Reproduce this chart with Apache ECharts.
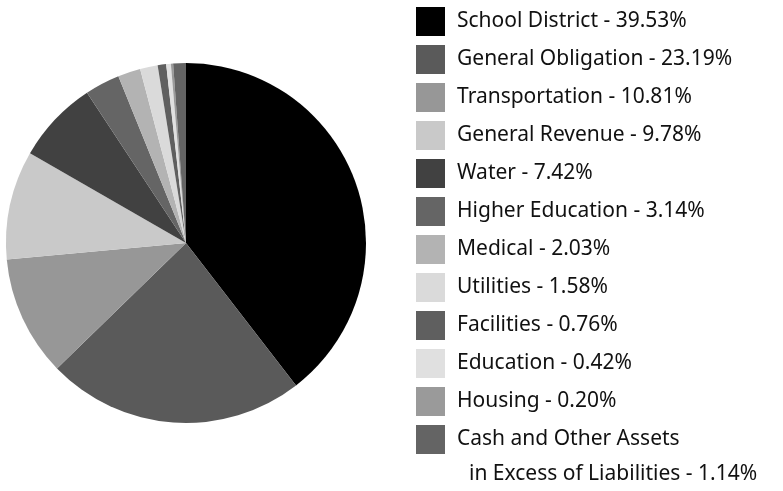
<!DOCTYPE html>
<html>
<head>
<meta charset="utf-8">
<script src="https://cdn.jsdelivr.net/npm/echarts@6/dist/echarts.min.js"></script>
<style>
  html, body { margin: 0; padding: 0; background: #fff; }
  #pie { width: 783px; height: 491px; }
</style>
</head>
<body>
<div id="pie"></div>
<script>
var categories = ['School District', 'General Obligation', 'Transportation', 'General Revenue',
    'Water', 'Higher Education', 'Medical', 'Utilities', 'Facilities', 'Education', 'Housing',
    'Cash and Other Assets in Excess of Liabilities'];
var shares = [39.53, 23.19, 10.81, 9.78, 7.42, 3.14, 2.03, 1.58, 0.76, 0.42, 0.20, 1.14];
var greys = ['#000000', '#5a5a5a', '#979797', '#c9c9c9', '#414141', '#656565',
    '#b3b3b3', '#dadada', '#5f5f5f', '#e0e0e0', '#9a9a9a', '#646464'];

var chart = echarts.init(document.getElementById('pie'));

var pieData = [];
for (var i = 0; i < categories.length; i++) {
    pieData.push({ name: categories[i], value: shares[i], itemStyle: { color: greys[i] } });
}

// the last legend entry wraps onto a second, indented line
var lastName = categories[categories.length - 1];
var lastSplit = lastName.indexOf(' in ');

var option = {
    animation: false,
    legend: {
        orient: 'vertical',
        left: 416,
        top: 7,
        padding: 0,
        icon: 'rect',
        itemWidth: 29,
        itemHeight: 29,
        itemGap: 9,
        selectedMode: false,
        data: categories,
        textStyle: {
            fontFamily: 'Noto Sans',
            fontSize: 21,
            color: '#111',
            padding: [0, 0, 0, 7]
        },
        formatter: function (name) {
            var idx = categories.indexOf(name);
            if (name === lastName) {
                return name.substring(0, lastSplit);
            }
            return name + ' - ' + shares[idx].toFixed(2) + '%';
        }
    },
    graphic: [{
        type: 'text',
        left: 469,
        top: 464,
        style: {
            text: lastName.substring(lastSplit + 1) + ' - ' + shares[shares.length - 1].toFixed(2) + '%',
            fontFamily: 'Noto Sans',
            fontSize: 21,
            fill: '#111'
        }
    }],
    series: [{
        type: 'pie',
        center: [186, 243],
        radius: 180,
        startAngle: 90,
        clockwise: true,
        label: { show: false },
        labelLine: { show: false },
        emphasis: { disabled: true },
        data: pieData
    }]
};

chart.setOption(option);
</script>
</body>
</html>
